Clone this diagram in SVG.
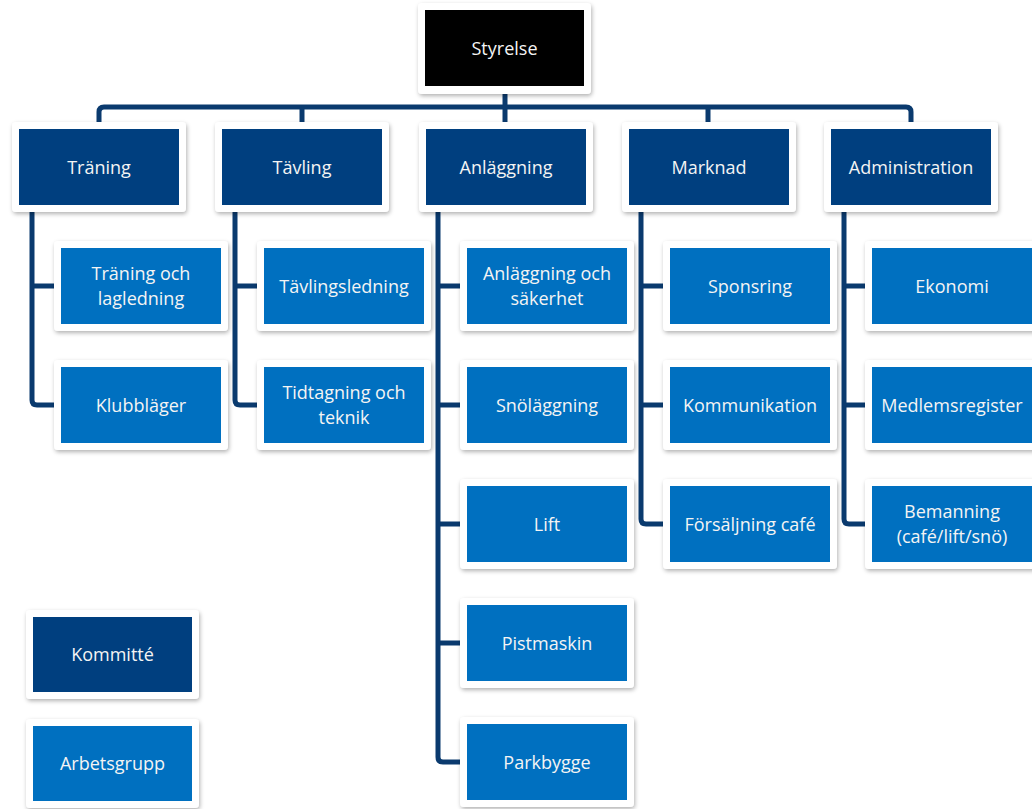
<svg xmlns="http://www.w3.org/2000/svg" width="1032" height="809" viewBox="0 0 1032 809">
<style>
.frame{fill:#ffffff;filter:url(#sh)}
.s{fill:#000000}
.k{fill:#003F7F}
.a{fill:#0070C0}
.c{fill:none;stroke:#0A3A6E;stroke-width:5;stroke-linejoin:round;stroke-linecap:butt}
text{font-family:"Open Sans","Noto Sans","Liberation Sans",sans-serif;font-size:18px;fill:#F4F4F4;text-anchor:middle}
</style>
<defs>
<filter id="sh" x="-10%" y="-10%" width="120%" height="130%">
<feDropShadow dx="1" dy="2" stdDeviation="2" flood-color="#000000" flood-opacity="0.3"/>
</filter>
</defs>
<rect width="1032" height="809" fill="#ffffff"/>
<g id="connectors">
<path class="c" d="M505,94 V107"/>
<path class="c" d="M99,124 V112 Q99,107 104,107 H906 Q911,107 911,112 V124"/>
<path class="c" d="M302,107 V124 M708,107 V124"/>
<path class="c" d="M505,107 V124"/>
<path class="c" d="M32,212 V400 Q32,405 37,405 H55 M32,286 H55"/>
<path class="c" d="M235,212 V400 Q235,405 240,405 H258 M235,286 H258"/>
<path class="c" d="M438,212 V757 Q438,762 443,762 H461 M438,286 H461 M438,405 H461 M438,524 H461 M438,643 H461"/>
<path class="c" d="M641,212 V519 Q641,524 646,524 H664 M641,286 H664 M641,405 H664"/>
<path class="c" d="M844,212 V519 Q844,524 849,524 H866 M844,286 H866 M844,405 H866"/>
</g>
<g id="styrelse"><rect class="frame" x="418" y="3" width="173" height="91" rx="4"/><rect class="s" x="425" y="10" width="159" height="76"/><text x="504.5" y="55">Styrelse</text></g>
<g id="traning"><rect class="frame" x="12" y="122" width="174" height="90" rx="4"/><rect class="k" x="19" y="129" width="160" height="76"/><text x="99" y="174">Träning</text></g>
<g id="tavling"><rect class="frame" x="215" y="122" width="174" height="90" rx="4"/><rect class="k" x="222" y="129" width="160" height="76"/><text x="302" y="174">Tävling</text></g>
<g id="anlaggning"><rect class="frame" x="419" y="122" width="174" height="90" rx="4"/><rect class="k" x="426" y="129" width="160" height="76"/><text x="506" y="174">Anläggning</text></g>
<g id="marknad"><rect class="frame" x="622" y="122" width="174" height="90" rx="4"/><rect class="k" x="629" y="129" width="160" height="76"/><text x="709" y="174">Marknad</text></g>
<g id="administration"><rect class="frame" x="824" y="122" width="174" height="90" rx="4"/><rect class="k" x="831" y="129" width="160" height="76"/><text x="911" y="174">Administration</text></g>

<g id="traning-lagledning"><rect class="frame" x="54" y="241" width="174" height="90" rx="4"/><rect class="a" x="61" y="248" width="160" height="76"/><text x="141" y="279.5">Träning och<tspan x="141" dy="25">lagledning</tspan></text></g>
<g id="klubblager"><rect class="frame" x="54" y="360" width="174" height="90" rx="4"/><rect class="a" x="61" y="367" width="160" height="76"/><text x="141" y="412">Klubbläger</text></g>

<g id="tavlingsledning"><rect class="frame" x="257" y="241" width="174" height="90" rx="4"/><rect class="a" x="264" y="248" width="160" height="76"/><text x="344" y="293">Tävlingsledning</text></g>
<g id="tidtagning"><rect class="frame" x="257" y="360" width="174" height="90" rx="4"/><rect class="a" x="264" y="367" width="160" height="76"/><text x="344" y="398.5">Tidtagning och<tspan x="344" dy="25">teknik</tspan></text></g>

<g id="anl-sakerhet"><rect class="frame" x="460" y="241" width="174" height="90" rx="4"/><rect class="a" x="467" y="248" width="160" height="76"/><text x="547" y="279.5">Anläggning och<tspan x="547" dy="25">säkerhet</tspan></text></g>
<g id="snolaggning"><rect class="frame" x="460" y="360" width="174" height="90" rx="4"/><rect class="a" x="467" y="367" width="160" height="76"/><text x="547" y="412">Snöläggning</text></g>
<g id="lift"><rect class="frame" x="460" y="479" width="174" height="90" rx="4"/><rect class="a" x="467" y="486" width="160" height="76"/><text x="547" y="531">Lift</text></g>
<g id="pistmaskin"><rect class="frame" x="460" y="598" width="174" height="90" rx="4"/><rect class="a" x="467" y="605" width="160" height="76"/><text x="547" y="650">Pistmaskin</text></g>
<g id="parkbygge"><rect class="frame" x="460" y="717" width="174" height="90" rx="4"/><rect class="a" x="467" y="724" width="160" height="76"/><text x="547" y="769">Parkbygge</text></g>

<g id="sponsring"><rect class="frame" x="663" y="241" width="174" height="90" rx="4"/><rect class="a" x="670" y="248" width="160" height="76"/><text x="750" y="293">Sponsring</text></g>
<g id="kommunikation"><rect class="frame" x="663" y="360" width="174" height="90" rx="4"/><rect class="a" x="670" y="367" width="160" height="76"/><text x="750" y="412">Kommunikation</text></g>
<g id="forsaljning"><rect class="frame" x="663" y="479" width="174" height="90" rx="4"/><rect class="a" x="670" y="486" width="160" height="76"/><text x="750" y="531">Försäljning café</text></g>

<g id="ekonomi"><rect class="frame" x="865" y="241" width="174" height="90" rx="4"/><rect class="a" x="872" y="248" width="160" height="76"/><text x="952" y="293">Ekonomi</text></g>
<g id="medlemsregister"><rect class="frame" x="865" y="360" width="174" height="90" rx="4"/><rect class="a" x="872" y="367" width="160" height="76"/><text x="952" y="412">Medlemsregister</text></g>
<g id="bemanning"><rect class="frame" x="865" y="479" width="174" height="90" rx="4"/><rect class="a" x="872" y="486" width="160" height="76"/><text x="952" y="517.5">Bemanning<tspan x="952" dy="25">(café/lift/snö)</tspan></text></g>

<g id="legend-kommitte"><rect class="frame" x="26" y="610" width="173" height="89" rx="4"/><rect class="k" x="33" y="617" width="159" height="75"/><text x="112.5" y="661">Kommitté</text></g>
<g id="legend-arbetsgrupp"><rect class="frame" x="26" y="719" width="173" height="89" rx="4"/><rect class="a" x="33" y="726" width="159" height="75"/><text x="112.5" y="770">Arbetsgrupp</text></g>
</svg>
